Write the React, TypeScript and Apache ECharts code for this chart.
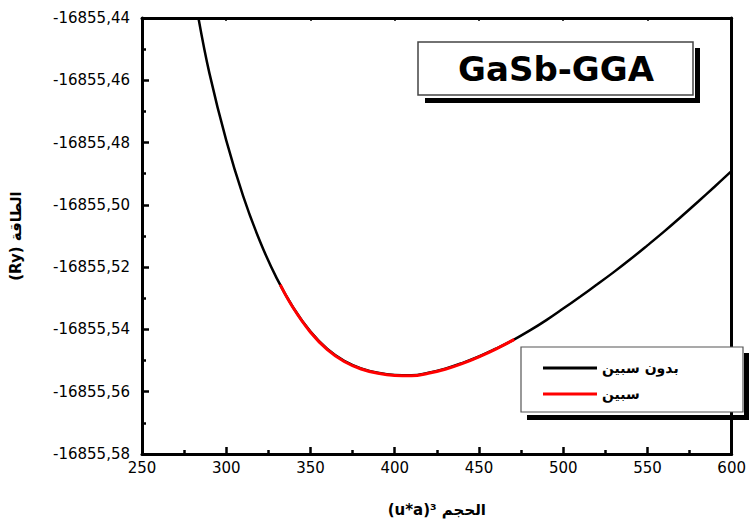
import React, { useEffect, useRef } from "react";
import * as echarts from "echarts";

// Volume (u*a)^3 and total energy (Ry) of GaSb, GGA
const noSpinVolume = [283.5, 290, 300, 310, 320, 330, 340, 350, 360, 370, 380, 390, 400, 410, 420, 430, 440, 450, 460, 470, 480, 490, 500, 510, 520, 530, 540, 550, 560, 570, 580, 590, 600];
const noSpinEnergy = [
  -16855.44, -16855.4577, -16855.4793, -16855.4971, -16855.5117, -16855.5236, -16855.5332, -16855.5407,
  -16855.5463, -16855.5501, -16855.5525, -16855.5539, -16855.5546, -16855.5547, -16855.5539, -16855.5526,
  -16855.5508, -16855.5487, -16855.5462, -16855.5435, -16855.5404, -16855.537, -16855.5333, -16855.5295,
  -16855.5256, -16855.5216, -16855.5174, -16855.513, -16855.5085, -16855.5038, -16855.499, -16855.4941,
  -16855.4891,
];

const spinVolume = [332, 340, 350, 360, 370, 380, 390, 400, 410, 420, 430, 440, 450, 460, 471];
const spinEnergy = [
  -16855.5256, -16855.5333, -16855.5409, -16855.5465, -16855.5503, -16855.5527, -16855.5541, -16855.5548,
  -16855.5549, -16855.5541, -16855.5528, -16855.551, -16855.5488, -16855.5463, -16855.5432,
];

const seriesNames = ["بدون سبين", "سبين"];
const titleText = "GaSb-GGA";
const xAxisTitle = "(u*a)³ الحجم";
const yAxisTitle = "(Ry) الطاقة";

const FONT = "DejaVu Sans";

export default function App() {
  const ref = useRef<HTMLDivElement>(null);

  useEffect(() => {
    if (!ref.current) return;
    const chart = echarts.init(ref.current, null, { renderer: "svg" });

    const axisLine = { show: true, lineStyle: { color: "#000", width: 3 } };
    const yRange = { min: -16855.58, max: -16855.44, interval: 0.02 };

    chart.setOption({
      animation: false,
      backgroundColor: "#fff",
      grid: { left: 142, right: 16, top: 18, bottom: 71 },
      xAxis: [
        {
          type: "value",
          min: 250,
          max: 600,
          interval: 50,
          axisLine,
          axisTick: { inside: true, length: 7, lineStyle: { color: "#000", width: 2.5 } },
          minorTick: { show: true, splitNumber: 2, length: 4, lineStyle: { color: "#000", width: 2.5 } },
          splitLine: { show: false },
          axisLabel: { margin: 6, color: "#000", fontFamily: FONT, fontSize: 15 },
          name: xAxisTitle,
          nameLocation: "middle",
          nameGap: 48,
          nameTextStyle: { color: "#000", fontFamily: FONT, fontSize: 15, fontWeight: "bold" },
        },
        {
          type: "value",
          position: "top",
          min: 250,
          max: 600,
          interval: 50,
          axisLine,
          axisTick: { inside: true, length: 3, lineStyle: { color: "#000", width: 1.5 } },
          minorTick: { show: true, splitNumber: 2, length: 2, lineStyle: { color: "#000", width: 1.5 } },
          splitLine: { show: false },
          axisLabel: { show: false },
        },
      ],
      yAxis: [
        {
          type: "value",
          ...yRange,
          axisLine,
          axisTick: { inside: true, length: 7, lineStyle: { color: "#000", width: 2.5 } },
          minorTick: { show: true, splitNumber: 2, length: 4, lineStyle: { color: "#000", width: 2.5 } },
          splitLine: { show: false },
          axisLabel: {
            margin: 12,
            color: "#000",
            fontFamily: FONT,
            fontSize: 15,
            formatter: (v: number) => v.toFixed(2).replace(".", ","),
          },
          name: yAxisTitle,
          nameLocation: "middle",
          nameRotate: 90,
          nameGap: 119,
          nameTextStyle: { color: "#000", fontFamily: FONT, fontSize: 15, fontWeight: "bold" },
        },
        {
          type: "value",
          position: "right",
          ...yRange,
          axisLine,
          axisTick: { show: false },
          splitLine: { show: false },
          axisLabel: { show: false },
        },
      ],
      legend: {
        orient: "vertical",
        left: 543,
        top: 361,
        padding: 0,
        itemWidth: 54,
        itemHeight: 3,
        itemGap: 12,
        icon: "rect",
        z: 20,
        textStyle: { color: "#000", fontFamily: FONT, fontSize: 14, fontWeight: "bold" },
        data: seriesNames,
      },
      graphic: [
        // title box with its offset shadow
        { type: "rect", z: 10, shape: { x: 695, y: 48, width: 5, height: 55 }, style: { fill: "#000" } },
        { type: "rect", z: 10, shape: { x: 425, y: 98, width: 275, height: 5 }, style: { fill: "#000" } },
        { type: "rect", z: 10, shape: { x: 418, y: 42, width: 275, height: 53 }, style: { fill: "#fff", stroke: "#444", lineWidth: 1.5 } },
        {
          type: "text",
          z: 11,
          x: 556,
          y: 69,
          style: {
            text: titleText,
            fill: "#000",
            font: `bold 34px "${FONT}"`,
            textAlign: "center",
            textVerticalAlign: "middle",
          },
        },
        // legend box with its offset shadow
        { type: "rect", z: 10, shape: { x: 744, y: 353, width: 5, height: 67 }, style: { fill: "#000" } },
        { type: "rect", z: 10, shape: { x: 527, y: 415, width: 222, height: 5 }, style: { fill: "#000" } },
        { type: "rect", z: 10, shape: { x: 521, y: 347, width: 222, height: 65 }, style: { fill: "#fff", stroke: "#555", lineWidth: 1.2 } },
      ],
      series: [
        {
          name: seriesNames[0],
          type: "line",
          smooth: 0.4,
          showSymbol: false,
          symbol: "none",
          color: "#000",
          lineStyle: { color: "#000", width: 2.5 },
          data: noSpinVolume.map((v, i) => [v, noSpinEnergy[i]]),
          z: 2,
        },
        {
          name: seriesNames[1],
          type: "line",
          smooth: 0.4,
          showSymbol: false,
          symbol: "none",
          color: "#ff0000",
          lineStyle: { color: "#ff0000", width: 3 },
          data: spinVolume.map((v, i) => [v, spinEnergy[i]]),
          z: 3,
        },
      ],
    });

    return () => chart.dispose();
  }, []);

  return <div ref={ref} style={{ width: 749, height: 525, position: "absolute", left: 0, top: 0 }} />;
}
